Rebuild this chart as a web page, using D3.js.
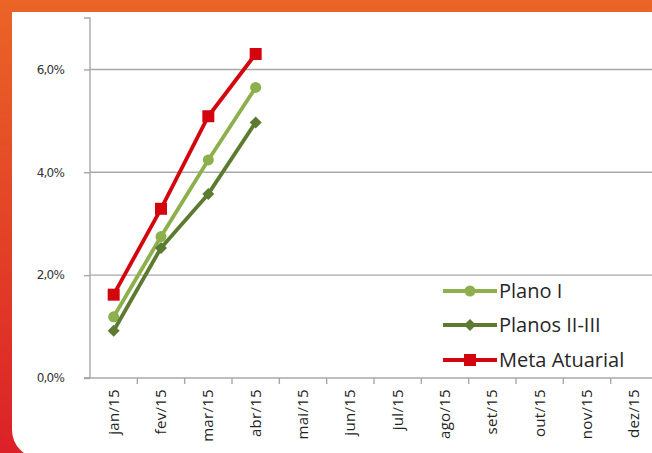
<!DOCTYPE html>
<html lang="pt">
<head>
  <meta charset="UTF-8">
  <title>Rentabilidade 2015</title>
  <style>
    body { margin: 0; }
  </style>
</head>
<body>
  <svg id="svg" width="652" height="453"></svg>

  <script src="https://d3js.org/d3.v7.min.js"></script>
  <script>
    const months = ["jan/15", "fev/15", "mar/15", "abr/15", "mai/15", "jun/15",
      "jul/15", "ago/15", "set/15", "out/15", "nov/15", "dez/15"]
    const yTicks = [0, 0.02, 0.04, 0.06]

    const planoI = [0.0119, 0.0275, 0.0424, 0.0565]
    const planosII = [0.0092, 0.0253, 0.0358, 0.0497]
    const meta = [0.0162, 0.0329, 0.0509, 0.0630]

    const series = [
      { name: "Plano I", values: planoI, color: "#8db04c", marker: "circle" },
      { name: "Planos II-III", values: planosII, color: "#5d7b30", marker: "diamond" },
      { name: "Meta Atuarial", values: meta, color: "#d3060f", marker: "square" }
    ]

    const svg = d3.select("#svg")

    // orange-to-red frame
    const grad = svg.append("defs").append("linearGradient")
      .attr("id", "frame").attr("x1", 0).attr("y1", 0).attr("x2", 0).attr("y2", 1)
    grad.append("stop").attr("offset", "0%").attr("stop-color", "#ea6526")
    grad.append("stop").attr("offset", "100%").attr("stop-color", "#dc2128")

    svg.append("rect").attr("width", 652).attr("height", 453).attr("fill", "url(#frame)")

    // white panel, rounded bottom-left corner
    const px = 12, py = 12, pb = 458, r = 28
    svg.append("path")
      .attr("d", `M${px},${py} H660 V${pb} H${px + r} A${r},${r} 0 0 1 ${px},${pb - r} Z`)
      .attr("fill", "#fff")

    const x = d3.scaleBand().domain(months).range([90, 658])
    const y = d3.scaleLinear().domain([0, 0.07]).range([378, 18])
    const cx = m => x(m) + x.bandwidth() / 2

    // gridlines
    svg.append("g")
      .selectAll("line")
      .data(yTicks.filter(t => t > 0))
      .join("line")
      .attr("x1", 90).attr("x2", 652)
      .attr("y1", d => y(d)).attr("y2", d => y(d))
      .attr("stroke", "#a8a8a8")
      .attr("stroke-width", 1.4)

    // y axis
    const yAxis = svg.append("g")
      .attr("transform", "translate(90,0)")
      .call(d3.axisLeft(y).tickValues(yTicks).tickSize(6).tickPadding(20)
        .tickFormat(d => d3.format(".1f")(d * 100).replace(".", ",") + "%"))
    yAxis.select(".domain").attr("stroke", "#a8a8a8").attr("stroke-width", 1.4)
      .attr("d", `M-6,${y(0.07)}H0V${y(0)}H-6`)
    yAxis.selectAll(".tick line").attr("stroke", "#a8a8a8").attr("stroke-width", 1.4)
    yAxis.selectAll(".tick text")
      .style("font-family", "'DejaVu Sans'")
      .style("font-size", "12px")
      .style("letter-spacing", "-0.8px")
      .attr("fill", "#333")

    // x axis
    const xAxis = svg.append("g")
      .attr("transform", "translate(0,378)")
    xAxis.append("line")
      .attr("x1", 84).attr("x2", 652)
      .attr("stroke", "#a8a8a8").attr("stroke-width", 1.4)
    xAxis.selectAll(".xtick")
      .data(months)
      .join("line")
      .attr("class", "xtick")
      .attr("x1", d => x(d) + x.bandwidth()).attr("x2", d => x(d) + x.bandwidth())
      .attr("y1", 0).attr("y2", 6)
      .attr("stroke", "#a8a8a8").attr("stroke-width", 1.4)
    xAxis.selectAll("text")
      .data(months)
      .join("text")
      .text(d => d)
      .attr("transform", d => `translate(${cx(d) + 5},11) rotate(-90)`)
      .attr("text-anchor", "end")
      .style("font-family", "'Open Sans'")
      .style("font-size", "15px")
      .style("letter-spacing", "0.3px")
      .attr("fill", "#222")

    // lines and markers
    const line = d3.line()
      .x((d, i) => cx(months[i]))
      .y(d => y(d))

    function drawMarker(g, type, color) {
      if (type === "circle") {
        g.append("circle").attr("r", 5.5).attr("fill", color)
      } else if (type === "square") {
        g.append("rect").attr("x", -6).attr("y", -6).attr("width", 12).attr("height", 12).attr("fill", color)
      } else {
        g.append("path").attr("d", "M0,-6L6,0L0,6L-6,0Z").attr("fill", color)
      }
    }

    series.forEach(s => {
      svg.append("path")
        .attr("d", line(s.values))
        .attr("fill", "none")
        .attr("stroke", s.color)
        .attr("stroke-width", 3.8)
        .attr("stroke-linejoin", "round")

      s.values.forEach((v, i) => {
        const g = svg.append("g").attr("transform", `translate(${cx(months[i])},${y(v)})`)
        drawMarker(g, s.marker, s.color)
      })
    })

    // legend
    const legendY = [291, 325, 360]
    series.forEach((s, i) => {
      const g = svg.append("g").attr("transform", `translate(443,${legendY[i]})`)
      g.append("line")
        .attr("x1", 0).attr("x2", 54)
        .attr("stroke", s.color).attr("stroke-width", 3.8)
      const m = g.append("g").attr("transform", "translate(27,0)")
      drawMarker(m, s.marker, s.color)
      g.append("text")
        .text(s.name)
        .attr("x", 56)
        .attr("dy", "0.36em")
        .style("font-family", "'Open Sans'")
        .style("font-size", "20px")
        .attr("fill", "#262626")
    })
  </script>
</body>
</html>
